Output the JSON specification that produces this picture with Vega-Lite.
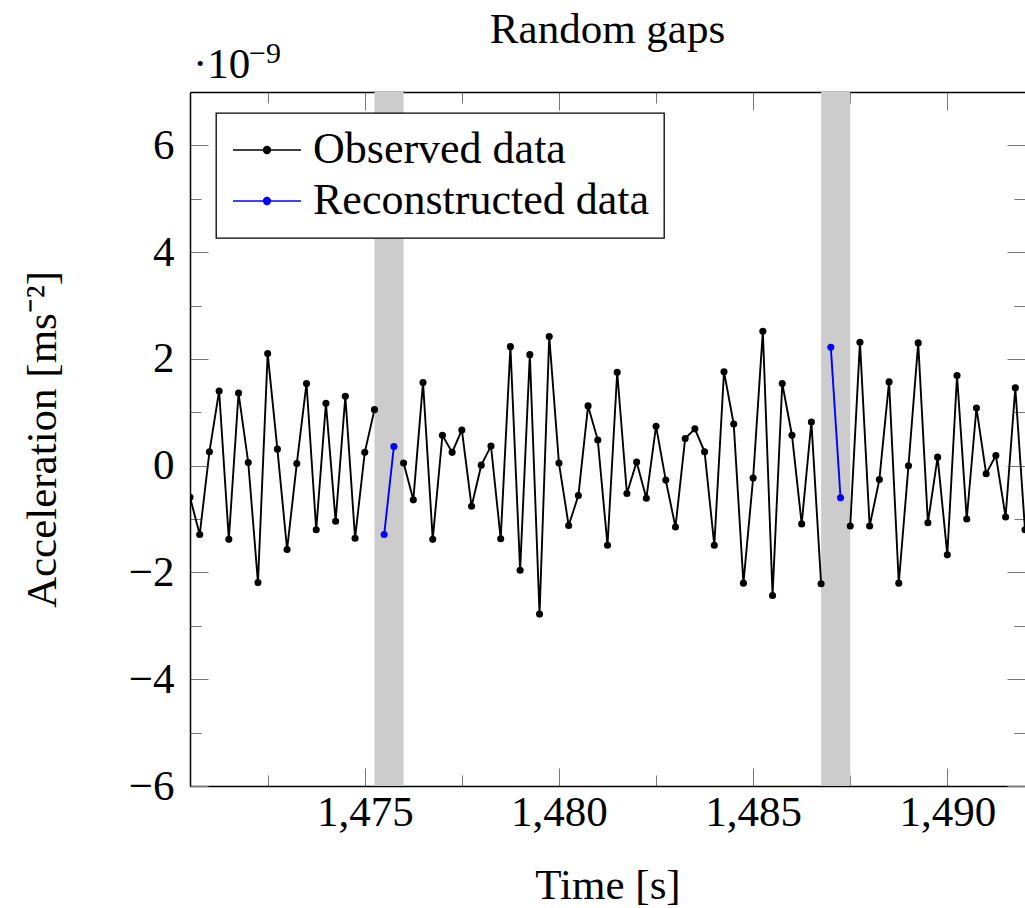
{
  "$schema": "https://vega.github.io/schema/vega-lite/v6.json",
  "width": 835,
  "height": 694,
  "autosize": {"type": "none"},
  "padding": {"left": 190, "top": 92, "right": 0, "bottom": 122},
  "background": "white",
  "config": {
    "font": "Liberation Serif",
    "view": {"stroke": null},
    "axis": {
      "grid": false,
      "domainColor": "black",
      "domainWidth": 1.5,
      "tickColor": "#777777",
      "tickWidth": 1,
      "labelFont": "Liberation Serif",
      "labelFontSize": 43,
      "labelColor": "black",
      "titleFont": "Liberation Serif",
      "titleFontSize": 43,
      "titleFontWeight": "normal",
      "titleColor": "black"
    }
  },
  "title": {
    "text": "Random gaps",
    "font": "Liberation Serif",
    "fontSize": 43,
    "fontWeight": "normal",
    "color": "black",
    "frame": "group",
    "anchor": "middle",
    "baseline": "alphabetic",
    "offset": 0,
    "dy": 47
  },
  "datasets": {
    "gaps": [
      {"start": 1475.25, "end": 1476.0},
      {"start": 1486.75, "end": 1487.5}
    ],
    "series": [
      {"t": 1470.5, "a": -0.59, "series": "Observed data", "seg": "o1"},
      {"t": 1470.75, "a": -1.29, "series": "Observed data", "seg": "o1"},
      {"t": 1471.0, "a": 0.26, "series": "Observed data", "seg": "o1"},
      {"t": 1471.25, "a": 1.40, "series": "Observed data", "seg": "o1"},
      {"t": 1471.5, "a": -1.38, "series": "Observed data", "seg": "o1"},
      {"t": 1471.75, "a": 1.36, "series": "Observed data", "seg": "o1"},
      {"t": 1472.0, "a": 0.06, "series": "Observed data", "seg": "o1"},
      {"t": 1472.25, "a": -2.19, "series": "Observed data", "seg": "o1"},
      {"t": 1472.5, "a": 2.10, "series": "Observed data", "seg": "o1"},
      {"t": 1472.75, "a": 0.31, "series": "Observed data", "seg": "o1"},
      {"t": 1473.0, "a": -1.57, "series": "Observed data", "seg": "o1"},
      {"t": 1473.25, "a": 0.04, "series": "Observed data", "seg": "o1"},
      {"t": 1473.5, "a": 1.54, "series": "Observed data", "seg": "o1"},
      {"t": 1473.75, "a": -1.20, "series": "Observed data", "seg": "o1"},
      {"t": 1474.0, "a": 1.17, "series": "Observed data", "seg": "o1"},
      {"t": 1474.25, "a": -1.04, "series": "Observed data", "seg": "o1"},
      {"t": 1474.5, "a": 1.30, "series": "Observed data", "seg": "o1"},
      {"t": 1474.75, "a": -1.36, "series": "Observed data", "seg": "o1"},
      {"t": 1475.0, "a": 0.25, "series": "Observed data", "seg": "o1"},
      {"t": 1475.25, "a": 1.05, "series": "Observed data", "seg": "o1"},
      {"t": 1475.5, "a": -1.29, "series": "Reconstructed data", "seg": "r1"},
      {"t": 1475.75, "a": 0.36, "series": "Reconstructed data", "seg": "r1"},
      {"t": 1476.0, "a": 0.05, "series": "Observed data", "seg": "o2"},
      {"t": 1476.25, "a": -0.64, "series": "Observed data", "seg": "o2"},
      {"t": 1476.5, "a": 1.56, "series": "Observed data", "seg": "o2"},
      {"t": 1476.75, "a": -1.38, "series": "Observed data", "seg": "o2"},
      {"t": 1477.0, "a": 0.57, "series": "Observed data", "seg": "o2"},
      {"t": 1477.25, "a": 0.25, "series": "Observed data", "seg": "o2"},
      {"t": 1477.5, "a": 0.67, "series": "Observed data", "seg": "o2"},
      {"t": 1477.75, "a": -0.76, "series": "Observed data", "seg": "o2"},
      {"t": 1478.0, "a": 0.01, "series": "Observed data", "seg": "o2"},
      {"t": 1478.25, "a": 0.37, "series": "Observed data", "seg": "o2"},
      {"t": 1478.5, "a": -1.37, "series": "Observed data", "seg": "o2"},
      {"t": 1478.75, "a": 2.23, "series": "Observed data", "seg": "o2"},
      {"t": 1479.0, "a": -1.96, "series": "Observed data", "seg": "o2"},
      {"t": 1479.25, "a": 2.08, "series": "Observed data", "seg": "o2"},
      {"t": 1479.5, "a": -2.78, "series": "Observed data", "seg": "o2"},
      {"t": 1479.75, "a": 2.42, "series": "Observed data", "seg": "o2"},
      {"t": 1480.0, "a": 0.05, "series": "Observed data", "seg": "o2"},
      {"t": 1480.25, "a": -1.12, "series": "Observed data", "seg": "o2"},
      {"t": 1480.5, "a": -0.56, "series": "Observed data", "seg": "o2"},
      {"t": 1480.75, "a": 1.12, "series": "Observed data", "seg": "o2"},
      {"t": 1481.0, "a": 0.48, "series": "Observed data", "seg": "o2"},
      {"t": 1481.25, "a": -1.49, "series": "Observed data", "seg": "o2"},
      {"t": 1481.5, "a": 1.75, "series": "Observed data", "seg": "o2"},
      {"t": 1481.75, "a": -0.52, "series": "Observed data", "seg": "o2"},
      {"t": 1482.0, "a": 0.07, "series": "Observed data", "seg": "o2"},
      {"t": 1482.25, "a": -0.61, "series": "Observed data", "seg": "o2"},
      {"t": 1482.5, "a": 0.74, "series": "Observed data", "seg": "o2"},
      {"t": 1482.75, "a": -0.27, "series": "Observed data", "seg": "o2"},
      {"t": 1483.0, "a": -1.15, "series": "Observed data", "seg": "o2"},
      {"t": 1483.25, "a": 0.51, "series": "Observed data", "seg": "o2"},
      {"t": 1483.5, "a": 0.69, "series": "Observed data", "seg": "o2"},
      {"t": 1483.75, "a": 0.26, "series": "Observed data", "seg": "o2"},
      {"t": 1484.0, "a": -1.49, "series": "Observed data", "seg": "o2"},
      {"t": 1484.25, "a": 1.76, "series": "Observed data", "seg": "o2"},
      {"t": 1484.5, "a": 0.78, "series": "Observed data", "seg": "o2"},
      {"t": 1484.75, "a": -2.20, "series": "Observed data", "seg": "o2"},
      {"t": 1485.0, "a": -0.23, "series": "Observed data", "seg": "o2"},
      {"t": 1485.25, "a": 2.52, "series": "Observed data", "seg": "o2"},
      {"t": 1485.5, "a": -2.43, "series": "Observed data", "seg": "o2"},
      {"t": 1485.75, "a": 1.54, "series": "Observed data", "seg": "o2"},
      {"t": 1486.0, "a": 0.57, "series": "Observed data", "seg": "o2"},
      {"t": 1486.25, "a": -1.09, "series": "Observed data", "seg": "o2"},
      {"t": 1486.5, "a": 0.82, "series": "Observed data", "seg": "o2"},
      {"t": 1486.75, "a": -2.21, "series": "Observed data", "seg": "o2"},
      {"t": 1487.0, "a": 2.22, "series": "Reconstructed data", "seg": "r2"},
      {"t": 1487.25, "a": -0.60, "series": "Reconstructed data", "seg": "r2"},
      {"t": 1487.5, "a": -1.13, "series": "Observed data", "seg": "o3"},
      {"t": 1487.75, "a": 2.31, "series": "Observed data", "seg": "o3"},
      {"t": 1488.0, "a": -1.13, "series": "Observed data", "seg": "o3"},
      {"t": 1488.25, "a": -0.26, "series": "Observed data", "seg": "o3"},
      {"t": 1488.5, "a": 1.57, "series": "Observed data", "seg": "o3"},
      {"t": 1488.75, "a": -2.20, "series": "Observed data", "seg": "o3"},
      {"t": 1489.0, "a": 0.00, "series": "Observed data", "seg": "o3"},
      {"t": 1489.25, "a": 2.30, "series": "Observed data", "seg": "o3"},
      {"t": 1489.5, "a": -1.07, "series": "Observed data", "seg": "o3"},
      {"t": 1489.75, "a": 0.16, "series": "Observed data", "seg": "o3"},
      {"t": 1490.0, "a": -1.67, "series": "Observed data", "seg": "o3"},
      {"t": 1490.25, "a": 1.69, "series": "Observed data", "seg": "o3"},
      {"t": 1490.5, "a": -1.00, "series": "Observed data", "seg": "o3"},
      {"t": 1490.75, "a": 1.08, "series": "Observed data", "seg": "o3"},
      {"t": 1491.0, "a": -0.15, "series": "Observed data", "seg": "o3"},
      {"t": 1491.25, "a": 0.19, "series": "Observed data", "seg": "o3"},
      {"t": 1491.5, "a": -0.96, "series": "Observed data", "seg": "o3"},
      {"t": 1491.75, "a": 1.46, "series": "Observed data", "seg": "o3"},
      {"t": 1492.0, "a": -1.20, "series": "Observed data", "seg": "o3"}
    ],
    "exponent": [{"base": "·10", "exp": "−9"}]
  },
  "layer": [
    {
      "data": {"name": "gaps"},
      "mark": {"type": "rect", "color": "#cccccc", "clip": true},
      "encoding": {
        "x": {
          "field": "start",
          "type": "quantitative",
          "scale": {"domain": [1470.5, 1492], "nice": false, "zero": false},
          "axis": {
            "orient": "top",
            "values": [1472.5, 1475, 1477.5, 1480, 1482.5, 1485, 1487.5, 1490],
            "labels": false,
            "title": null,
            "domain": true,
            "tickSize": {"condition": {"test": "datum.value % 5 === 0", "value": -18}, "value": -11}
          }
        },
        "x2": {"field": "end"},
        "y": {
          "datum": -6,
          "type": "quantitative",
          "scale": {"domain": [-6, 7], "nice": false, "zero": false},
          "axis": {
            "orient": "right",
            "values": [-6, -5, -4, -3, -2, -1, 0, 1, 2, 3, 4, 5, 6],
            "labels": false,
            "title": null,
            "domain": false,
            "tickSize": {"condition": {"test": "datum.value % 2 === 0", "value": -18}, "value": -11}
          }
        },
        "y2": {"datum": 7}
      }
    },
    {
      "data": {"name": "series"},
      "mark": {
        "type": "line",
        "strokeWidth": 1.9,
        "clip": true,
        "point": {"filled": true, "size": 50}
      },
      "encoding": {
        "x": {
          "field": "t",
          "type": "quantitative",
          "scale": {"domain": [1470.5, 1492], "nice": false, "zero": false},
          "axis": {
            "orient": "bottom",
            "values": [1472.5, 1475, 1477.5, 1480, 1482.5, 1485, 1487.5, 1490],
            "format": ",",
            "labelExpr": "datum.value % 5 === 0 ? datum.label : ''",
            "labelPadding": 23,
            "labelFlush": false,
            "title": "Time [s]",
            "titleY": 99,
            "titleBaseline": "middle",
            "tickSize": {"condition": {"test": "datum.value % 5 === 0", "value": -18}, "value": -11}
          }
        },
        "y": {
          "field": "a",
          "type": "quantitative",
          "scale": {"domain": [-6, 7], "nice": false, "zero": false},
          "axis": {
            "orient": "left",
            "values": [-6, -5, -4, -3, -2, -1, 0, 1, 2, 3, 4, 5, 6],
            "labelExpr": "datum.value % 2 === 0 ? datum.label : ''",
            "labelPadding": 34,
            "labelFlush": false,
            "title": "Acceleration [ms⁻²]",
            "titleX": -148,
            "titleY": 347,
            "titleBaseline": "middle",
            "tickSize": {"condition": {"test": "datum.value % 2 === 0", "value": -18}, "value": -11}
          }
        },
        "color": {
          "field": "series",
          "type": "nominal",
          "scale": {"domain": ["Observed data", "Reconstructed data"], "range": ["#000000", "#0000ff"]},
          "legend": {
            "orient": "none",
            "legendX": 26,
            "legendY": 21,
            "title": null,
            "fillColor": "white",
            "strokeColor": "black",
            "cornerRadius": 0,
            "padding": 15,
            "symbolType": "M-1.7,0L1.7,0M-0.175,0A0.175,0.175 0 1,1 0.175,0A0.175,0.175 0 1,1 -0.175,0Z",
            "symbolSize": 1600,
            "symbolStrokeWidth": 1.3,
            "symbolOffset": 14,
            "labelOffset": 24,
            "labelLimit": 1000,
            "labelFont": "Liberation Serif",
            "labelFontSize": 44,
            "labelColor": "black",
            "rowPadding": 7,
            "encode": {
              "legend": {"update": {"strokeWidth": {"value": 1.3}}},
              "symbols": {"update": {"fill": {"scale": "color", "field": "value"}, "stroke": {"scale": "color", "field": "value"}}}
            }
          }
        },
        "detail": {"field": "seg", "type": "nominal"}
      }
    },
    {
      "data": {"name": "exponent"},
      "mark": {"type": "text", "align": "left", "baseline": "alphabetic", "fontSize": 43, "dx": 3, "dy": -14, "color": "black"},
      "encoding": {
        "x": {"datum": 1470.5, "type": "quantitative", "axis": null},
        "y": {"datum": 7, "type": "quantitative", "axis": null},
        "text": {"field": "base"}
      }
    },
    {
      "data": {"name": "exponent"},
      "mark": {"type": "text", "align": "left", "baseline": "alphabetic", "fontSize": 30, "dx": 59, "dy": -29, "color": "black"},
      "encoding": {
        "x": {"datum": 1470.5, "type": "quantitative", "axis": null},
        "y": {"datum": 7, "type": "quantitative", "axis": null},
        "text": {"field": "exp"}
      }
    }
  ],
  "resolve": {"axis": {"x": "independent", "y": "independent"}}
}
